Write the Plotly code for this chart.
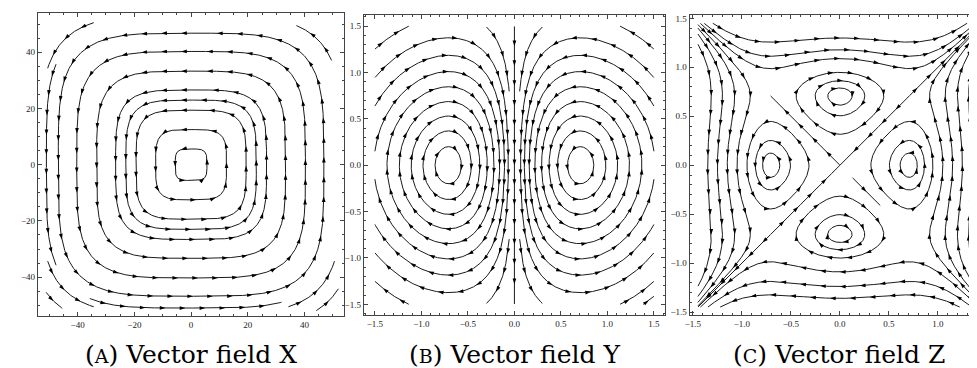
import math
import numpy as np
import plotly.graph_objects as go

W, H = 977, 368

# ---------------- data ----------------
# Panel A: vector field X (closed squircle orbits), seeds + arc half-lengths
A_seed_x = [0, 0, 0, 0, 0, 0, 0, 0, -51.0, -2.0, -44.6, 44.6, -44.6, 44.6, -48.5, 48.5]
A_seed_y = [5.6, 12.5, 19.4, 23.0, 26.6, 33.3, 40.3, 46.8, 0.0, -51.0, 44.6, 44.6, -44.6, -44.6, -48.5, -48.5]
A_len_back = [1e9] * 8 + [36, 34, 12, 9, 12, 12, 4, 6]
A_len_fwd = [1e9] * 8 + [36, 34, 12, 9, 12, 12, 4, 6]

# Panel B: vector field Y
B_seed_x = ([0.707] * 8 + [-0.707] * 8 + [0.0, 1.3, -1.3, -1.3, 1.3, 1.44]
            + [0.3, -0.3, 0.3, -0.3])
B_seed_y = ([0.2, 0.37, 0.53, 0.686, 0.846, 1.01, 1.185, 1.374] * 2
            + [0.0, 1.408, 1.408, -1.408, -1.408, -1.46]
            + [1.49, 1.49, -1.49, -1.49])
B_len_back = [1e9] * 22 + [0, 0, 0.75, 0.75]
B_len_fwd = [1e9] * 22 + [0.75, 0.75, 0, 0]

# Panel C: vector field Z
C_center_d = [0.316, 0.505, 0.614]
C_seed_x = ([0, 0, 0] + [0, 0, 0]                 # top / bottom flows
            + [-1.05, -1.15, -1.25, -1.35]          # left flows
            + [1.05, 1.15, 1.25, 1.35]              # right flows
            + [1.1, 0.35, -0.35, -1.1, -0.4, 0.27]  # diagonals
            + [0.0] * 3 + [0.0] * 3 + C_center_d + [-d for d in C_center_d])
C_seed_y = ([1.09, 1.18, 1.30] + [-1.09, -1.24, -1.36]
            + [0, 0, 0, 0]
            + [0, 0, 0, 0]
            + [1.1, 0.35, -0.35, -1.1, 0.4, -0.27]
            + C_center_d + [-d for d in C_center_d] + [0.0] * 3 + [0.0] * 3)
C_len = [1e9] * 19 + [0.2] + [1e9] * 12

A_ticks = [-40, -20, 0, 20, 40]
B_ticks = [-1.5, -1.0, -0.5, 0.0, 0.5, 1.0, 1.5]
C_ticks = [-1.5, -1.0, -0.5, 0.0, 0.5, 1.0, 1.5]
captions = ["X", "Y", "Z"]
letters = ["A", "B", "C"]


# ---------------- vector fields ----------------
def field_A(x, y):
    return -y ** 3, x ** 3


def field_B(x, y):
    return -x * y, x * x - 0.5


def field_C(x, y):
    return 4 * y ** 3 - 2 * y, 4 * x ** 3 - 2 * x


def unit(f, x, y):
    u, v = f(x, y)
    m = math.hypot(u, v)
    if m < 1e-10:
        return None
    return u / m, v / m


def rk4(f, x, y, h):
    k1 = unit(f, x, y)
    if k1 is None:
        return None
    k2 = unit(f, x + 0.5 * h * k1[0], y + 0.5 * h * k1[1])
    if k2 is None:
        return None
    k3 = unit(f, x + 0.5 * h * k2[0], y + 0.5 * h * k2[1])
    if k3 is None:
        return None
    k4 = unit(f, x + h * k3[0], y + h * k3[1])
    if k4 is None:
        return None
    return (x + h * (k1[0] + 2 * k2[0] + 2 * k3[0] + k4[0]) / 6,
            y + h * (k1[1] + 2 * k2[1] + 2 * k3[1] + k4[1]) / 6)


def trace(f, x0, y0, h, smax, lim, close=False):
    pts = [(x0, y0)]
    x, y = x0, y0
    s = 0.0
    pd = None
    n = 0
    while s < smax and n < 20000:
        n += 1
        r = rk4(f, x, y, h)
        if r is None:
            break
        nx, ny = r
        dx, dy = nx - x, ny - y
        if pd is not None and dx * pd[0] + dy * pd[1] < 0:
            break
        pd = (dx, dy)
        if abs(nx) > lim or abs(ny) > lim:
            break
        pts.append((nx, ny))
        s += h
        x, y = nx, ny
        if close and s > 30 * h and math.hypot(nx - x0, ny - y0) < 1.2 * h:
            pts.append((x0, y0))
            return pts, True
    return pts, False


def streamline(f, x0, y0, sb, sf, h, lim):
    fwd, closed = trace(f, x0, y0, h, sf, lim, close=True)
    if closed:
        return fwd, True
    back, _ = trace(lambda a, b: tuple(-c for c in f(a, b)), x0, y0, h, sb, lim)
    return back[::-1] + fwd[1:], False


def build(f, sx, sy, sb, sf, h, lim, pxu, spacing=20.0):
    lx, ly, ax, ay, ang = [], [], [], [], []
    for x0, y0, b, fw in zip(sx, sy, sb, sf):
        pts, closed = streamline(f, x0, y0, b, fw, h, lim)
        if len(pts) < 2:
            continue
        arr = np.array(pts)
        lx += list(arr[:, 0]) + [None]
        ly += list(arr[:, 1]) + [None]
        seg = np.diff(arr, axis=0) * pxu
        sl = np.hypot(seg[:, 0], seg[:, 1])
        cum = np.concatenate([[0], np.cumsum(sl)])
        total = cum[-1]
        if total < spacing * 0.6:
            continue
        nar = max(1, int(total // spacing))
        off = (total - (nar - 1) * spacing) / 2 if not closed else spacing / 2
        for k in range(nar):
            p = off + k * spacing
            if p > total:
                break
            i = min(np.searchsorted(cum, p) - 1, len(seg) - 1)
            i = max(i, 0)
            t = (p - cum[i]) / sl[i] if sl[i] > 0 else 0
            px_ = arr[i, 0] + t * (arr[i + 1, 0] - arr[i, 0])
            py_ = arr[i, 1] + t * (arr[i + 1, 1] - arr[i, 1])
            ax.append(px_)
            ay.append(py_)
            ang.append(math.degrees(math.atan2(seg[i, 0], seg[i, 1])))
    return lx, ly, ax, ay, ang


fig = go.Figure()

panels = [
    (field_A, A_seed_x, A_seed_y, A_len_back, A_len_fwd, 0.15, 52.0, 2.85, "x", "y"),
    (field_B, B_seed_x, B_seed_y, B_len_back, B_len_fwd, 0.004, 1.5, 93.5, "x2", "y2"),
    (field_C, C_seed_x, C_seed_y, C_len, C_len, 0.004, 1.45, 98.5, "x3", "y3"),
]
for f, sx, sy, sb, sf, h, lim, pxu, xa, ya in panels:
    lx, ly, ax, ay, ang = build(f, sx, sy, sb, sf, h, lim, pxu)
    fig.add_trace(go.Scatter(x=lx, y=ly, mode="lines", xaxis=xa, yaxis=ya,
                             line=dict(color="black", width=0.9),
                             hoverinfo="skip", showlegend=False))
    fig.add_trace(go.Scatter(x=ax, y=ay, mode="markers", xaxis=xa, yaxis=ya,
                             marker=dict(symbol="arrow", size=6, angle=ang,
                                         color="black", line=dict(width=0)),
                             hoverinfo="skip", showlegend=False))

tickfont = dict(family="Liberation Serif", size=9, color="#222")


def ax_style(**kw):
    d = dict(showline=True, linecolor="#444", linewidth=1, mirror="allticks",
             ticks="inside", ticklen=4, tickcolor="#444", tickwidth=0.8,
             showgrid=False, zeroline=False, tickfont=tickfont, fixedrange=True)
    d.update(kw)
    return d


def py(top_px):
    return (H - top_px) / H


fig.update_layout(
    width=W, height=H, autosize=False,
    margin=dict(l=0, r=0, t=0, b=0),
    paper_bgcolor="white", plot_bgcolor="white",
    xaxis=ax_style(domain=[25 / W, 333 / W], range=[-54, 54], anchor="y",
                   tickvals=A_ticks, minor=dict(ticks="inside", ticklen=2, dtick=5, tickcolor="#444")),
    yaxis=ax_style(domain=[py(310), py(4)], range=[-54, 54], anchor="x",
                   tickvals=A_ticks, minor=dict(ticks="inside", ticklen=2, dtick=5, tickcolor="#444")),
    xaxis2=ax_style(domain=[352.5 / W, 655.5 / W], range=[-1.62, 1.62], anchor="y2",
                    tickvals=B_ticks, tickformat=".1f",
                    minor=dict(ticks="inside", ticklen=2, dtick=0.1, tickcolor="#444")),
    yaxis2=ax_style(domain=[py(309), py(6)], range=[-1.62, 1.62], anchor="x2",
                    tickvals=B_ticks, tickformat=".1f",
                    minor=dict(ticks="inside", ticklen=2, dtick=0.1, tickcolor="#444")),
    xaxis3=ax_style(domain=[680 / W, 1.0], range=[-1.535, -1.535 + 297 / 98.5], anchor="y3",
                    tickvals=C_ticks, tickformat=".1f",
                    minor=dict(ticks="inside", ticklen=2, dtick=0.1, tickcolor="#444")),
    yaxis3=ax_style(domain=[py(309), py(6)], range=[-1.535, 1.535], anchor="x3",
                    tickvals=C_ticks, tickformat=".1f", mirror=False,
                    minor=dict(ticks="inside", ticklen=2, dtick=0.1, tickcolor="#444")),
)

centers = [179 / W, 504 / W, 830 / W]
for cx, lab, L in zip(centers, captions, letters):
    fig.add_annotation(
        x=cx, y=py(348), xref="paper", yref="paper", showarrow=False,
        xanchor="center", yanchor="middle",
        text="(<span style='font-size:19px'>%s</span>) Vector field %s" % (L, lab),
        font=dict(family="DejaVu Serif", size=25, color="black"))

fig.write_html("out.html", config={"displayModeBar": False})
